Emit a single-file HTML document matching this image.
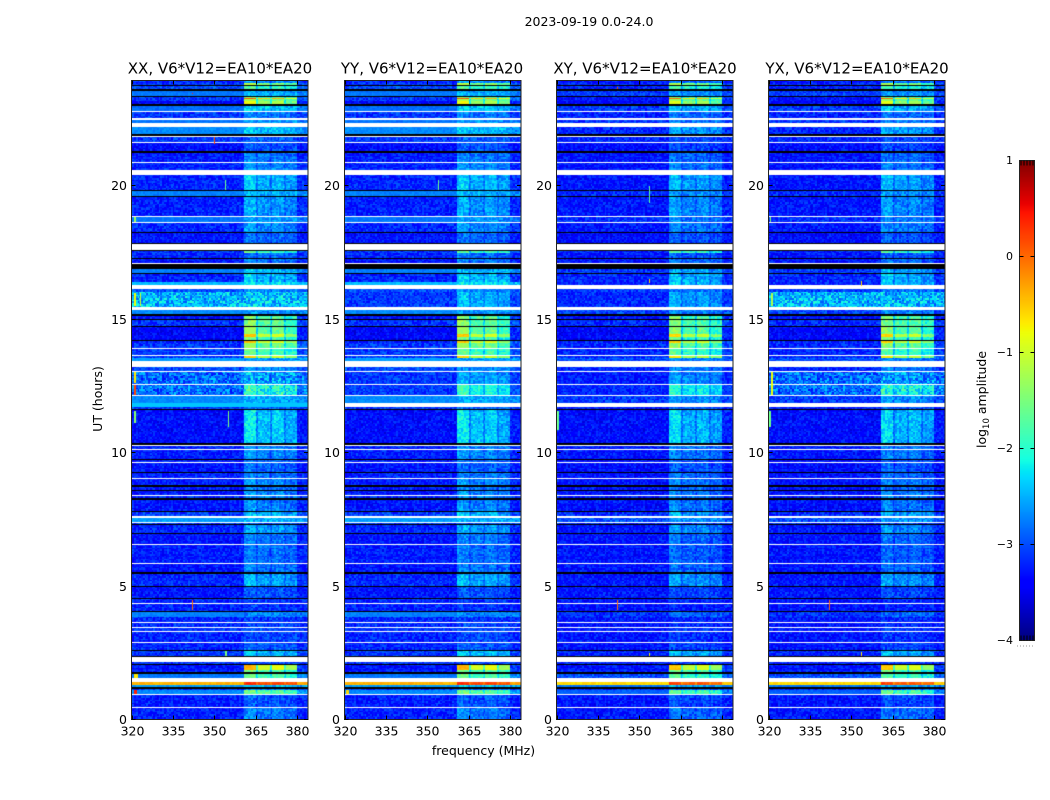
<!DOCTYPE html>
<html>
<head>
<meta charset="utf-8">
<title>2023-09-19 0.0-24.0</title>
<style>
html,body{margin:0;padding:0;background:#fff;}
#figure{position:relative;width:1050px;height:800px;overflow:hidden;background:#fff;font-family:"DejaVu Sans","Liberation Sans",sans-serif;}
canvas{position:absolute;display:block;}
svg{position:absolute;left:0;top:0;}
text{fill:#000;font-family:"DejaVu Sans","Liberation Sans",sans-serif;}
</style>
</head>
<body>
<div id="figure">
<canvas id="p0" width="176" height="638" style="left:132px;top:81px"></canvas>
<canvas id="p1" width="176" height="638" style="left:345px;top:81px"></canvas>
<canvas id="p2" width="176" height="638" style="left:557px;top:81px"></canvas>
<canvas id="p3" width="176" height="638" style="left:769px;top:81px"></canvas>
<canvas id="cbar" width="15" height="480" style="left:1019px;top:160px"></canvas>
<svg id="overlay" width="1050" height="800">
<text x="589" y="26" text-anchor="middle" font-size="12.5">2023-09-19 0.0-24.0</text>
<text x="220" y="73.5" text-anchor="middle" font-size="15">XX, V6*V12=EA10*EA20</text>
<text x="432" y="73.5" text-anchor="middle" font-size="15">YY, V6*V12=EA10*EA20</text>
<text x="645" y="73.5" text-anchor="middle" font-size="15">XY, V6*V12=EA10*EA20</text>
<text x="857" y="73.5" text-anchor="middle" font-size="15">YX, V6*V12=EA10*EA20</text>
<text x="483.5" y="755" text-anchor="middle" font-size="12.5">frequency (MHz)</text>
<text x="0" y="0" transform="translate(102,399) rotate(-90)" text-anchor="middle" font-size="12.5">UT (hours)</text>
<text x="0" y="0" transform="translate(986,399.5) rotate(-90)" text-anchor="middle" font-size="12.5">log<tspan font-size="8.5" dy="3">10</tspan><tspan dy="-3"> amplitude</tspan></text>
</svg>
</div>
<script>
// Hour at the upper edge of each horizontal time band, top of the plot downward.
const bandTop = [
24.004,23.947,23.835,23.797,23.703,23.639,23.451,23.402,23.365,23.327,
23.263,23.139,23.064,22.865,22.838,22.602,22.556,22.425,22.263,22.011,
21.936,21.910,21.711,21.684,21.372,21.308,20.947,20.921,20.658,20.470,
19.895,19.868,19.680,19.654,18.929,18.891,18.703,18.665,18.338,18.278,
17.925,17.876,17.650,17.613,17.538,17.350,17.312,17.173,17.124,16.947,
16.786,16.748,16.459,16.335,16.195,16.083,16.060,15.496,15.395,15.244,
15.180,15.045,15.019,14.793,14.767,14.504,14.368,14.267,14.229,14.143,
13.955,13.929,13.703,13.665,13.579,13.459,13.241,13.113,13.075,12.613,
12.575,12.199,12.162,11.910,11.759,11.662,11.624,10.383,10.320,10.282,
10.169,10.132,9.793,9.756,9.680,9.643,9.316,9.256,9.079,9.041,
8.816,8.729,8.628,8.602,8.440,8.402,8.316,8.252,8.150,8.128,
7.838,7.789,7.650,7.575,7.425,7.387,7.338,7.301,7.011,6.962,
6.598,6.571,5.883,5.857,5.534,5.481,5.019,4.970,4.568,4.519,
4.368,4.331,4.079,4.030,3.842,3.654,3.628,3.466,3.440,3.327,
3.289,2.902,2.876,2.613,2.575,2.398,2.361,2.150,2.086,2.049,
1.861,1.774,1.722,1.549,1.410,1.286,1.211,1.158,1.109,0.959,
0.921,0.459,0.432
];
// Log10 amplitude outside the interference block. null = flagged (white), -9 = zero data (black).
const baseParallel = [
-3.2,-3.1,-9,-3.0,-9,-2.8,-9,-3.1,-3.1,-3.1,
-3.4,-9,-2.85,null,-3.1,null,-2.8,null,-2.7,-9,
null,-3.1,null,-3.35,-9,-3.25,null,-3.2,null,-3.2,
-9,-2.75,-9,-3.25,null,-2.8,null,-3.2,-9,-3.3,
-9,null,-9,-3.1,-3.2,-9,-3.3,null,-9,-2.75,
-9,-3.2,-2.45,null,-3.0,-9,-3.1,null,-2.7,-9,
-3.3,-9,-3.15,-9,-3.4,-3.4,-3.4,-9,-3.2,-3.1,
null,-3.1,null,-3.1,-2.6,null,-3.0,null,-3.1,null,
-3.1,null,-2.7,null,-3.1,-9,-3.35,-9,null,-3.2,
null,-3.25,-9,-3.2,null,-3.3,-9,-3.2,null,-3.25,
-9,-3.25,-9,-3.3,null,-3.2,-9,-3.3,null,-3.3,
-9,-3.1,null,-2.6,null,-3.1,-9,-3.2,-9,-3.3,
null,-3.25,null,-3.3,-9,-3.2,-9,-3.3,-9,-3.2,
null,-3.2,-9,-2.75,-3.2,null,-3.15,null,-3.15,null,
-3.2,null,-3.2,-9,-3.1,-9,null,-3.1,-9,-3.3,
-3.2,-9,-2.8,null,-0.4,-2.6,-9,-3.1,-2.7,null,
-3.25,null,-3.25
];
const baseCross = [
-3.3,-3.2,-9,-3.2,-9,-3.1,-9,-3.3,-3.3,-3.3,
-3.4,-9,-3.1,null,-3.2,null,-3.1,null,-3.2,-9,
null,-3.2,null,-3.35,-9,-3.3,null,-3.3,null,-3.3,
-9,-3.2,-9,-3.3,null,-3.15,null,-3.3,-9,-3.35,
-9,null,-9,-3.2,-3.3,-9,-3.3,null,-9,-3.1,
-9,-3.2,-3.2,null,-3.1,-9,-3.2,null,-3.05,-9,
-3.3,-9,-3.2,-9,-3.4,-3.4,-3.4,-9,-3.2,-3.2,
null,-3.2,null,-3.2,-3.0,null,-3.2,null,-3.25,null,
-3.2,null,-3.1,null,-3.25,-9,-3.35,-9,null,-3.25,
null,-3.3,-9,-3.3,null,-3.35,-9,-3.3,null,-3.3,
-9,-3.3,-9,-3.3,null,-3.3,-9,-3.3,null,-3.35,
-9,-3.2,null,-3.0,null,-3.2,-9,-3.3,-9,-3.3,
null,-3.3,null,-3.3,-9,-3.3,-9,-3.3,-9,-3.3,
null,-3.3,-9,-3.15,-3.3,null,-3.3,null,-3.3,null,
-3.3,null,-3.3,-9,-3.2,-9,null,-3.2,-9,-3.3,
-3.2,-9,-3.0,null,-0.6,-2.8,-9,-3.2,-2.9,null,
-3.3,null,-3.3
];
// Log10 amplitude inside the 360-380 MHz interference block.
const bandRfi = [
-2.6,-1.1,-9,-1.7,-9,-2.5,-9,-1.5,0.1,-1.2,
-0.8,-9,-2.3,null,-2.7,null,-2.6,null,-2.4,-9,
null,-2.9,null,-2.9,-9,-2.7,null,-2.6,null,-2.35,
-9,-2.5,-9,-2.5,null,-2.6,null,-2.6,-9,-2.8,
-9,null,-9,-1.6,-2.8,-9,-2.7,null,-9,-2.4,
-9,-2.3,-2.2,null,-2.7,-9,-2.4,null,-2.6,-9,
-1.4,-9,-1.4,-9,-1.3,-0.5,-1.5,-9,-0.5,-1.3,
null,-1.6,null,-0.6,-2.6,null,-2.6,null,-2.5,null,
-1.9,null,-2.5,null,-2.8,-9,-2.2,-9,null,-2.6,
null,-2.6,-9,-2.8,null,-2.8,-9,-2.7,null,-2.6,
-9,-2.7,-9,-2.6,null,-2.6,-9,-2.7,null,-2.6,
-9,-2.4,null,-2.5,null,-3.0,-9,-2.5,-9,-2.7,
null,-2.75,null,-2.7,-9,-2.45,-9,-2.9,-9,-3.1,
null,-3.1,-9,-2.75,-3.1,null,-3.0,null,-3.0,null,
-3.0,null,-2.9,-9,-2.3,-9,null,-3.0,-9,-0.4,
-1.5,-9,-1.6,null,0.3,-2.4,-9,-2.8,-1.5,null,
-2.9,null,-2.7
];
// Frequency segments (MHz) and how strongly each shows the interference level.
const channelEdges = [320,360.5,365,365.7,370,370.8,375.2,375.7,379.8,384];
const channelWeights = [0,1,0.5,0.8,0.5,0.85,0.5,0.7,0.08];
// Panels in drawing order; parallel hands use baseParallel, cross hands baseCross.
const panelNames = ['XX','YY','XY','YX'];
const panelIsCross = [false,false,true,true];
const panelRfiOffset = [0,0,-0.1,-0.1];
// Noisier time ranges seen only in some panels.
const roughPanel = [0,3,0,3];
const roughHourLow = [15.496,15.496,12.199,12.199];
const roughHourHigh = [16.06,16.06,13.075,13.075];
const roughLevel = [-2.5,-2.5,-2.85,-2.85];
// Isolated hot streaks: panel, hour range, frequency range, log10 amplitude.
const spotPanel = [0,0,0,0,0,0,0,0,0,0,0,0,0,0,0,1,1,2,2,2,2,2,2,3,3,3,3,3,3,3];
const spotHourLow = [11.759,15.55,15.55,12.65,12.2,11.15,11.0,18.7,21.65,23.5,4.1,2.4,1.55,0.96,19.9,0.96,19.9,10.9,16.4,19.4,4.1,23.7,2.4,15.55,12.2,11.0,4.1,16.3,18.7,2.4];
const spotHourHigh = [11.91,16.05,16.05,13.07,12.57,11.6,11.6,18.89,21.9,23.56,4.5,2.56,1.7,1.1,20.3,1.1,20.3,11.6,16.55,20.05,4.5,23.76,2.5,16.05,13.07,11.6,4.5,16.5,18.9,2.55];
const spotFreqLow = [320,321,323.1,321,321,321,355,321,349.8,342,342,354,321,321,353.9,320.5,353.9,320.3,353.5,353.5,342,342,353.5,321,321,320.3,342,353.5,320.5,353.5];
const spotFreqHigh = [384,321.7,323.6,321.7,321.7,321.7,355.3,321.7,350.2,342.35,342.35,354.8,322.4,321.9,354.2,321.5,354.2,321,353.8,353.8,342.35,342.35,353.8,321.7,321.7,321,342.35,353.8,321,353.8];
const spotLevel = [-2.4,-0.8,-1.0,-0.7,0.2,-1.4,-1.5,-1.3,0.2,0.3,0.0,-1.5,-0.7,0.4,-1.6,-0.6,-1.6,-1.6,-0.6,-1.7,0.0,0.2,-0.8,-1.2,-0.8,-1.6,0.0,-0.6,-1.5,-0.7];
// Hand-typed speckle offsets; a visual texture only, not values.
const grainTexture = [
0.3,-0.6,0.9,-0.2,0.1,-0.9,0.6,-0.4,0.2,1.0,-0.7,0.0,0.5,-0.3,-0.8,0.8,
-0.1,0.4,-0.5,0.7,-1.0,0.2,0.6,-0.6,0.1,-0.2,0.9,-0.4,0.3,-0.8,0.5,-0.1,
0.7,-0.5,0.0,1.0,-0.9,0.4,-0.3,0.2,-0.6,0.8,-0.2,0.1,-0.7,0.6,-0.4,0.3,
0.9,-1.0,0.5,-0.1,0.2,-0.5,0.7,-0.8,0.0,0.4,-0.3,0.6,-0.6
];
// Axis ticks.
const xTickValues = [320,335,350,365,380];
const yTickValues = [0,5,10,15,20];
const colorTickValues = [1,0,-1,-2,-3,-4];
const colorMinorTicks = [0.2,0.4,0.6,0.8,1.0];
const levelMin = -4;
const levelMax = 1;
const hourTickCalibration = 1.003;
const panelLeftEdge = [131.5,344.5,556.5,768.5];
const panelWidth = 176.5;

function yScale(hour){return 719.5-hour*26.6;}
function xScale(freq,panel){return panelLeftEdge[panel]+(freq-320)*panelWidth/64;}
function freqAt(px){return 320+px*64/panelWidth;}
function colorScale(level){return (level-levelMin)/(levelMax-levelMin);}
function ramp(t,pts){
  for(let i=1;i<pts.length;i++){
    if(t<=pts[i][0]){
      const a=pts[i-1],b=pts[i];
      return a[1]+(b[1]-a[1])*(t-a[0])/(b[0]-a[0]);
    }
  }
  return pts[pts.length-1][1];
}
function jet(t){
  t=Math.max(0,Math.min(1,t));
  return [
    255*ramp(t,[[0,0],[0.35,0],[0.66,1],[0.89,1],[1,0.5]]),
    255*ramp(t,[[0,0],[0.125,0],[0.375,1],[0.64,1],[0.91,0],[1,0]]),
    255*ramp(t,[[0,0.5],[0.11,1],[0.34,1],[0.65,0],[1,0]])
  ];
}
function channelWeightAt(freq){
  for(let i=0;i<channelWeights.length;i++){
    if(freq<channelEdges[i+1]) return channelWeights[i];
  }
  return 0;
}
function drawPanel(p){
  const cv=document.getElementById('p'+p);
  const ctx=cv.getContext('2d');
  const img=ctx.createImageData(cv.width,cv.height);
  const base=panelIsCross[p]?baseCross:baseParallel;
  const canvasTop=81;
  for(let i=0;i<bandTop.length;i++){
    const lower=i+1<bandTop.length?bandTop[i+1]:0;
    const y0=Math.max(0,Math.round(yScale(bandTop[i]))-canvasTop);
    const y1=Math.min(cv.height,Math.round(yScale(lower))-canvasTop);
    const mid=(bandTop[i]+lower)/2;
    let bandLevel=base[i];
    let rough=false;
    if(bandLevel!==null&&bandLevel!==-9){
      for(let r=0;r<roughPanel.length;r++){
        if(roughPanel[r]===p&&mid>=roughHourLow[r]&&mid<=roughHourHigh[r]){
          bandLevel=roughLevel[r];
          rough=true;
        }
      }
    }
    for(let y=y0;y<y1;y++){
      const cy=Math.floor((y+canvasTop)/1.6);
      for(let x=0;x<cv.width;x++){
        const freq=freqAt(x+0.5);
        const k=(y*cv.width+x)*4;
        let r=255,g=255,b=255;
        if(bandLevel===-9){
          r=g=b=0;
        }else if(bandLevel!==null){
          const w=channelWeightAt(freq);
          const target=bandRfi[i]+panelRfiOffset[p];
          const level=bandLevel+(target-bandLevel)*w;
          const cx=Math.floor(x/1.75)+p*17;
          const gr=grainTexture[(cx*cx*3+cy*cy*7+cx*cy*5+cx*11+cy*3)%grainTexture.length];
          let amp=(bandLevel>-3&&w===0)?0.1:0.28;
          if(rough) amp=0.5;
          if(level>-1.4) amp=0.1;
          const c=jet(colorScale(level+gr*amp));
          r=c[0];g=c[1];b=c[2];
        }
        img.data[k]=r;img.data[k+1]=g;img.data[k+2]=b;img.data[k+3]=255;
      }
    }
  }
  ctx.putImageData(img,0,0);
  const px0=parseFloat(cv.style.left);
  for(let s=0;s<spotPanel.length;s++){
    if(spotPanel[s]!==p) continue;
    const sx0=Math.round(xScale(spotFreqLow[s],p)-px0);
    const sx1=Math.max(sx0+1,Math.round(xScale(spotFreqHigh[s],p)-px0));
    const sy0=Math.round(yScale(spotHourHigh[s]))-canvasTop;
    const sy1=Math.max(sy0+1,Math.round(yScale(spotHourLow[s]))-canvasTop);
    const c=jet(colorScale(spotLevel[s]));
    ctx.fillStyle='rgb('+Math.round(c[0])+','+Math.round(c[1])+','+Math.round(c[2])+')';
    ctx.fillRect(sx0,sy0,sx1-sx0,sy1-sy0);
  }
}
for(let p=0;p<panelNames.length;p++){drawPanel(p);}

(function(){
  const cv=document.getElementById('cbar');
  const ctx=cv.getContext('2d');
  for(let y=0;y<cv.height;y++){
    const c=jet(1-(y+0.5)/cv.height);
    ctx.fillStyle='rgb('+Math.round(c[0])+','+Math.round(c[1])+','+Math.round(c[2])+')';
    ctx.fillRect(0,y,cv.width,1);
  }
})();

const svg=document.getElementById('overlay');
const NS='http://www.w3.org/2000/svg';
function addLine(name,x1,y1,x2,y2,stroke,width){
  const el=document.createElementNS(NS,'line');
  
  
  el.setAttribute('x1',x1);el.setAttribute('y1',y1);
  el.setAttribute('x2',x2);el.setAttribute('y2',y2);
  el.setAttribute('stroke',stroke||'#000');
  el.setAttribute('stroke-width',width||1);
  svg.appendChild(el);
  return el;
}
function addLabel(name,x,y,anchor,size,str){
  const el=document.createElementNS(NS,'text');
  
  
  el.setAttribute('x',x);el.setAttribute('y',y);
  el.setAttribute('text-anchor',anchor);
  el.setAttribute('font-size',size);
  el.textContent=str;
  svg.appendChild(el);
  return el;
}
function addFrame(name,x,y,w,h){
  const el=document.createElementNS(NS,'rect');
  
  
  el.setAttribute('x',x);el.setAttribute('y',y);
  el.setAttribute('width',w);el.setAttribute('height',h);
  el.setAttribute('fill','none');
  el.setAttribute('stroke','#222');
  el.setAttribute('stroke-width',1);
  svg.appendChild(el);
}
panelNames.forEach(function(pn,p){
  const L=panelLeftEdge[p];
  const R=L+panelWidth;
  const key=pn.toLowerCase();
  addFrame(key+'-panel-frame',L,80.5,panelWidth,639);
  xTickValues.forEach(function(v){
    const x=Math.round(xScale(v,p))+0.5;
    addLine(key+'-x-tick-bottom',x,719.5,x,715.5);
    addLine(key+'-x-tick-top',x,80.5,x,84.5);
    addLabel(key+'-x-tick-label',x,735.5,'middle',12.5,String(v));
  });
  yTickValues.forEach(function(v){
    const y=Math.round(yScale(v*hourTickCalibration)-0.5)+0.5;
    addLine(key+'-y-tick-left',L,y,L+4,y);
    addLine(key+'-y-tick-right',R,y,R-4,y);
    addLabel(key+'-y-tick-label',L-4.5,y+4.5,'end',12.5,String(v));
  });
});
addFrame('colorbar-frame',1019.5,160.5,15,480);
colorTickValues.forEach(function(v){
  const y=Math.round(160+(levelMax-v)*96)+0.5;
  addLabel('colorbar-tick-label',1013,y+3.5,'end',11,String(v).replace('-','\u2212'));
  if(v!==levelMax&&v!==levelMin){
    addLine('colorbar-tick-left',1019.5,y,1023.5,y);
    addLine('colorbar-tick-right',1034.5,y,1030.5,y);
  }
});
colorMinorTicks.forEach(function(v){
  const x=1019.5+v*15-1.5;
  addLine('colorbar-minor-tick-top',x,160.5,x,165.5);
  addLine('colorbar-minor-tick-bottom',x,640.5,x,635.5);
});
const dotted=addLine('colorbar-dotted-labels',1017,646,1035,646,'#999',1);
dotted.setAttribute('stroke-dasharray','1 2');
</script>
</body>
</html>
